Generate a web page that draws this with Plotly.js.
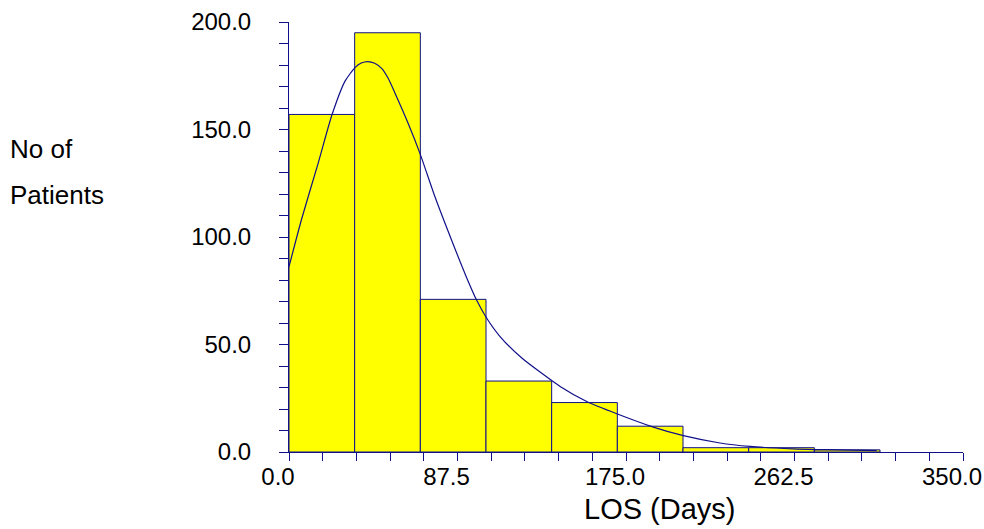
<!DOCTYPE html>
<html>
<head>
<meta charset="utf-8">
<script src="https://cdn.plot.ly/plotly-3.0.1.min.js"></script>
<style>html,body{margin:0;padding:0;background:#fff;}#chart{width:984px;height:529px;}</style>
</head>
<body>
<div id="chart"></div>
<script>
// Histogram bins (LOS in days)
var binStart = [0, 34.1, 68.2, 102.3, 136.4, 170.5, 204.6, 238.7, 272.8];
var binWidth = 34.1;
var patientCounts = [157, 195, 71, 33, 23, 12, 2, 2, 1];

// Fitted curve
var curveX = [0, 6.6, 15.2, 22.2, 29.1, 34.3, 37.5, 40.9, 44.5, 48.1, 51.5, 55.0, 61.9, 68.0, 75.8, 84.4, 92.2, 97.4, 102.7, 109.6, 120.9, 140.8, 154.6, 170.2, 189.2, 204.8, 223.8, 239.4, 261.7, 279.2, 305.2];
var curveY = [86.2, 108.5, 134.5, 156.5, 172.5, 178.8, 180.9, 181.6, 180.8, 178.4, 173.8, 167.0, 152.8, 138.9, 118.7, 98.6, 81.2, 70.7, 62.2, 53.7, 43.7, 30.5, 23.5, 17.8, 11.6, 7.6, 4.2, 2.6, 1.5, 1.1, 0.6];

var xTickVals = [0, 87.5, 175, 262.5, 350];
var xTickText = ["0.0", "87.5", "175.0", "262.5", "350.0"];
var yTickVals = [0, 50, 100, 150, 200];
var yTickText = ["0.0", "50.0", "100.0", "150.0", "200.0"];

var navy = "#10108a";
var font = "Liberation Sans, Arial, sans-serif";

var barCenters = binStart.map(function(s){ return s + binWidth / 2; });

var traces = [
  {
    type: "bar",
    x: barCenters,
    y: patientCounts,
    width: binWidth,
    marker: {color: "#ffff00", line: {color: navy, width: 1}},
    hoverinfo: "x+y"
  },
  {
    type: "scatter",
    mode: "lines",
    x: curveX,
    y: curveY,
    line: {color: navy, width: 1.2, shape: "spline", smoothing: 0.6},
    hoverinfo: "x+y"
  }
];

var layout = {
  width: 984,
  height: 529,
  margin: {l: 289, r: 21, t: 22, b: 77, pad: 0},
  paper_bgcolor: "#ffffff",
  plot_bgcolor: "#ffffff",
  showlegend: false,
  bargap: 0,
  font: {family: font, color: "#000000", size: 24},
  xaxis: {
    range: [0, 350],
    tickmode: "array",
    tickvals: xTickVals,
    ticktext: xTickText,
    ticks: "outside",
    ticklen: 8,
    tickwidth: 1,
    tickcolor: navy,
    ticklabelshift: -11,
    ticklabelstandoff: -5,
    tickfont: {family: font, size: 24, color: "#000"},
    minor: {dtick: 17.5, tick0: 0, ticks: "outside", ticklen: 8, tickwidth: 1, tickcolor: navy, showgrid: false},
    showline: true,
    linecolor: navy,
    linewidth: 1,
    showgrid: false,
    zeroline: false,
    fixedrange: true
  },
  yaxis: {
    range: [0, 200],
    tickmode: "array",
    tickvals: yTickVals,
    ticktext: yTickText,
    ticks: "outside",
    ticklen: 9,
    tickwidth: 1,
    tickcolor: navy,
    ticklabelstandoff: 23,
    tickfont: {family: font, size: 24, color: "#000"},
    minor: {dtick: 10, tick0: 0, ticks: "outside", ticklen: 9, tickwidth: 1, tickcolor: navy, showgrid: false},
    showline: true,
    linecolor: navy,
    linewidth: 1,
    showgrid: false,
    zeroline: false,
    fixedrange: true
  },
  annotations: [
    {text: "LOS (Days)", xref: "paper", yref: "paper", x: (659 - 289) / 674, y: (452.3 - 509) / 430.6,
     xanchor: "center", yanchor: "middle", showarrow: false, font: {family: font, size: 29, color: "#000"}},
    {text: "No of", xref: "paper", yref: "paper", x: (8 - 289) / 674, y: (452.3 - 148.5) / 430.6,
     xanchor: "left", yanchor: "middle", showarrow: false, font: {family: font, size: 26, color: "#000"}},
    {text: "Patients", xref: "paper", yref: "paper", x: (8 - 289) / 674, y: (452.3 - 195) / 430.6,
     xanchor: "left", yanchor: "middle", showarrow: false, font: {family: font, size: 26, color: "#000"}}
  ]
};

Plotly.newPlot("chart", traces, layout, {displayModeBar: false, staticPlot: true});
</script>
</body>
</html>
